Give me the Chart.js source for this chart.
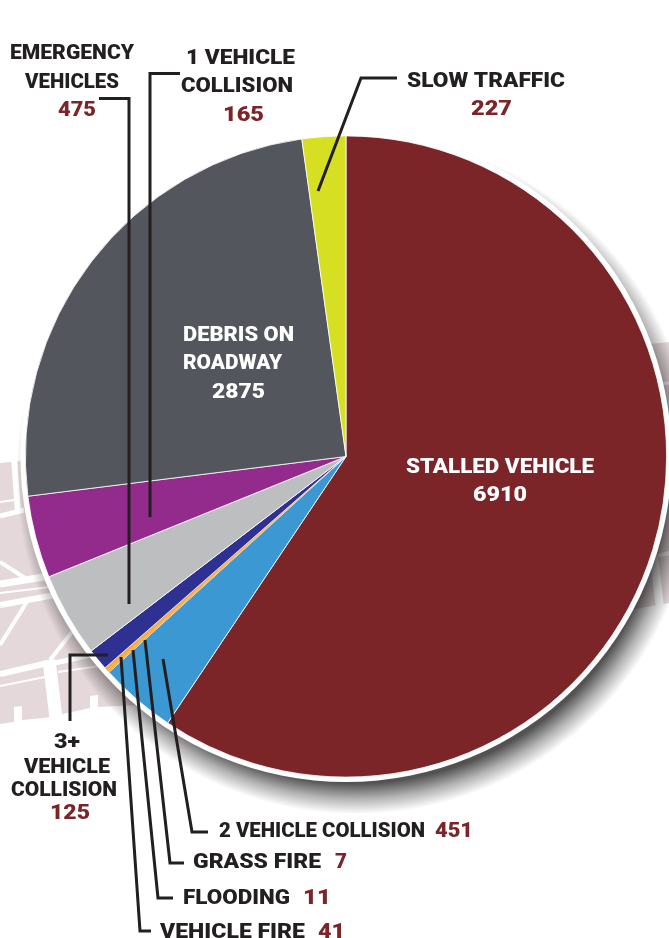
<!DOCTYPE html>
<html>
<head>
<meta charset="utf-8">
<title>Incident types</title>
<script src="https://cdn.jsdelivr.net/npm/chart.js@4"></script>
<style>
  html, body { margin: 0; padding: 0; background: #fff; overflow: hidden; }
  canvas { display: block; }
</style>
</head>
<body>
<canvas id="chart" width="669" height="938"></canvas>
<script>
// order is clockwise from 12 o'clock
const categories = ['STALLED VEHICLE', '2 VEHICLE COLLISION', 'GRASS FIRE', 'FLOODING', 'VEHICLE FIRE',
  '3+ VEHICLE COLLISION', 'EMERGENCY VEHICLES', '1 VEHICLE COLLISION', 'DEBRIS ON ROADWAY', 'SLOW TRAFFIC'];
// the figures printed next to each label
const printedCounts = [6910, 451, 7, 11, 41, 125, 475, 165, 2875, 227];
// slice sizes, they do not always follow the print
// (the purple slice is drawn about as big as the grey one although it says 165)
const sliceValues = [6882, 447, 6, 8, 20, 126, 493, 480, 2871, 255];
const sliceColors = ['#7b2529', '#3b98d3', '#f7a941', '#f7a941', '#f7a941',
  '#2e3192', '#bcbec0', '#922b8c', '#53565c', '#d7df23'];
const sliceBorders = [0.8, 0.8, 0, 0, 0, 0.8, 0.8, 0.8, 0.8, 0.8];

const DARK = '#231f20';
const RED = '#7b2529';
const WHITE = '#ffffff';

// [category index, text, left x, baseline y, width, colour]
const textSpots = [
  [6, 'EMERGENCY', 10, 59, 124, DARK],
  [6, 'VEHICLES', 25, 88, 94, DARK],
  [6, null, 58, 116, 38, RED],
  [7, '1 VEHICLE', 186, 64, 109, DARK],
  [7, 'COLLISION', 181, 92, 112, DARK],
  [7, null, 223, 121, 41, RED],
  [9, 'SLOW TRAFFIC', 407, 87, 158, DARK],
  [9, null, 471, 115, 41, RED],
  [8, 'DEBRIS ON', 183, 341, 111, WHITE],
  [8, 'ROADWAY', 183, 369, 99, WHITE],
  [8, null, 212, 398, 53, WHITE],
  [0, 'STALLED VEHICLE', 406, 473, 188, WHITE],
  [0, null, 473, 501, 54, WHITE],
  [5, '3+', 54, 748, 26, DARK],
  [5, 'VEHICLE', 24, 773, 86, DARK],
  [5, 'COLLISION', 11, 796, 106, DARK],
  [5, null, 50, 819, 40, RED],
  [1, '2 VEHICLE COLLISION', 219, 837, 206, DARK],
  [1, null, 435, 837, 38, RED],
  [2, 'GRASS FIRE', 193, 868, 128, DARK],
  [2, null, 335, 868, 12, RED],
  [3, 'FLOODING', 183, 904, 107, DARK],
  [3, null, 303, 904, 28, RED],
  [4, 'VEHICLE FIRE', 160, 938, 145, DARK],
  [4, null, 318, 938, 27, RED]
];

const leaders = [
  [[99, 98.5], [129, 98.5], [129, 604]],
  [[180, 73.5], [150, 73.5], [150, 517]],
  [[397, 78], [361, 78], [318, 191]],
  [[108, 655], [70, 655], [70, 721]],
  [[121, 657], [140, 931], [151, 931]],
  [[133, 650], [158, 898], [173, 898]],
  [[145, 640], [170, 863], [184, 863]],
  [[163, 659], [192, 832], [208, 832]]
];

// pale street map behind the pie
const mapBlocks = [
  [[0, 463], [20, 461], [140, 461], [140, 705], [98, 707], [98, 695], [90, 696], [90, 708], [58, 715], [44, 718], [22, 720], [22, 706], [14, 707], [14, 722], [0, 724]],
  [[630, 346], [669, 342], [669, 603], [630, 610]]
];
// [x1, y1, x2, y2, width]
const mapRoads = [
  [14, 458, 18, 512, 6], [0, 502, 14, 500, 2], [0, 516, 24, 510, 5],
  [0, 562, 25, 578, 4], [0, 584, 50, 576, 7], [0, 593, 50, 587, 2], [0, 605, 55, 595, 6],
  [28, 600, 0, 645, 4], [50, 660, 72, 632, 4],
  [0, 674, 48, 663, 6], [55, 663, 105, 652, 5], [0, 686, 45, 677, 2], [58, 672, 100, 666, 2],
  [49, 660, 56, 718, 13],
  [640, 386, 669, 383, 3], [640, 560, 669, 553, 4], [654, 556, 660, 608, 8]
];

function line(ctx, pts) {
  ctx.beginPath();
  pts.forEach((p, i) => i ? ctx.lineTo(p[0], p[1]) : ctx.moveTo(p[0], p[1]));
}

const decorations = {
  id: 'decorations',
  beforeDraw(chart) {
    const ctx = chart.ctx;
    ctx.save();
    ctx.fillStyle = '#e5d8da';
    mapBlocks.forEach(b => { line(ctx, b); ctx.closePath(); ctx.fill(); });
    ctx.strokeStyle = '#fff';
    mapRoads.forEach(r => {
      ctx.lineWidth = r[4];
      line(ctx, [[r[0], r[1]], [r[2], r[3]]]);
      ctx.stroke();
    });
    ctx.restore();
  },
  beforeDatasetsDraw(chart) {
    // shadow as an offset radial fade, then the white rim over it
    const ctx = chart.ctx;
    const arc = chart.getDatasetMeta(0).data[0];
    const r = arc.outerRadius;
    const sx = arc.x + 10;
    const sy = arc.y + 18;
    const fade = ctx.createRadialGradient(sx, sy, r - 12, sx, sy, r + 19);
    fade.addColorStop(0, 'rgba(0,0,0,0.68)');
    fade.addColorStop(0.5, 'rgba(0,0,0,0.3)');
    fade.addColorStop(1, 'rgba(0,0,0,0)');
    ctx.save();
    ctx.fillStyle = fade;
    ctx.beginPath();
    ctx.arc(sx, sy, r + 19, 0, Math.PI * 2);
    ctx.fill();
    ctx.fillStyle = '#fff';
    ctx.beginPath();
    ctx.arc(arc.x, arc.y, r + 5, 0, Math.PI * 2);
    ctx.fill();
    ctx.restore();
  },
  afterDatasetsDraw(chart) {
    const ctx = chart.ctx;
    ctx.save();
    ctx.strokeStyle = DARK;
    ctx.lineWidth = 3;
    ctx.lineJoin = 'miter';
    leaders.forEach(l => { line(ctx, l); ctx.stroke(); });

    ctx.textAlign = 'left';
    ctx.textBaseline = 'alphabetic';
    ctx.font = '900 21px Roboto';
    textSpots.forEach(([idx, text, x, y, w, color]) => {
      const str = text === null ? String(printedCounts[idx]) : text;
      // squeeze or stretch so each label keeps the width it has in the print
      ctx.save();
      ctx.translate(x, y);
      ctx.scale(w / ctx.measureText(str).width, 1);
      ctx.fillStyle = color;
      ctx.fillText(str, 0, 0);
      ctx.restore();
    });
    ctx.restore();
  }
};

new Chart(document.getElementById('chart'), {
  type: 'pie',
  data: {
    labels: categories,
    datasets: [{
      data: sliceValues,
      backgroundColor: sliceColors,
      borderColor: '#ffffff',
      borderWidth: sliceBorders
    }]
  },
  options: {
    responsive: false,
    animation: false,
    layout: { padding: { left: 25, right: 2, top: 135, bottom: 160 } },
    plugins: { legend: { display: false }, tooltip: { enabled: false } }
  },
  plugins: [decorations]
});
</script>
</body>
</html>
